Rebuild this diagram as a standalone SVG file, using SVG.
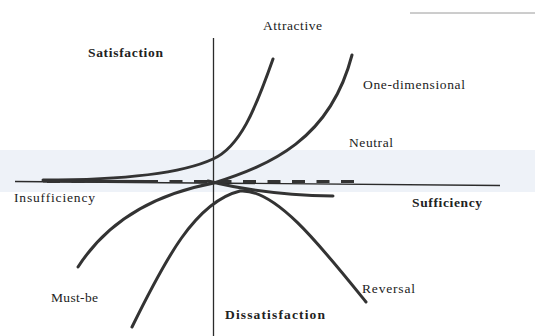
<svg xmlns="http://www.w3.org/2000/svg" width="535" height="336" viewBox="0 0 535 336">
<style>
.lbl{font-family:"Liberation Serif","Times New Roman",serif;font-size:13.5px;fill:#222}
.b{font-weight:bold}
.axis{stroke:#2b2b2b;stroke-width:1.3;fill:none}
.curve{stroke:#333;stroke-width:3;fill:none;stroke-linecap:round}
</style>
<rect width="535" height="336" fill="#ffffff"/>
<rect x="0" y="150" width="535" height="42" fill="#eef2f8"/>
<line x1="410" y1="13" x2="535" y2="13" stroke="#9a9a9a" stroke-width="1"/>
<g id="connectors">
  <line id="axis-x" class="axis" x1="15" y1="181.5" x2="500" y2="185.5"/>
  <line id="axis-y" class="axis" x1="213.5" y1="38" x2="213.5" y2="336"/>
  <path id="neutral" d="M43,181.5 L355,181.5" stroke="#333" stroke-width="3.2" fill="none" stroke-dasharray="13 11.5" stroke-dashoffset="-4"/>
  <path id="neutral-left" d="M43,181 L150,181.5" stroke="#333" stroke-width="3" fill="none"/>
  <path id="attractive" class="curve" d="M43,180 C 130,180 185,172 213,159 C 240,147 255,110 273,59"/>
  <path id="one-dimensional" class="curve" d="M78,267 C 105,225 150,195 214,183 C 270,165 330,140 352,55"/>
  <path id="mustbe-reversal" class="curve" d="M132,327 C 165,260 195,202 240,191 C 275,188 320,245 366,302"/>
  <path id="origin-line" class="curve" d="M208,181 C 240,189 280,195 333,196"/>
</g>
<g id="attractive-label"><text class="lbl" x="263" y="30" textLength="59" lengthAdjust="spacing">Attractive</text></g>
<g id="satisfaction-label"><text class="lbl b" x="88" y="57" textLength="75" lengthAdjust="spacing">Satisfaction</text></g>
<g id="onedim-label"><text class="lbl" x="363" y="89" textLength="102" lengthAdjust="spacing">One-dimensional</text></g>
<g id="neutral-label"><text class="lbl" x="349" y="147" textLength="44" lengthAdjust="spacing">Neutral</text></g>
<g id="insufficiency-label"><text class="lbl" x="14" y="202" textLength="81" lengthAdjust="spacing">Insufficiency</text></g>
<g id="sufficiency-label"><text class="lbl b" x="412" y="207" textLength="70" lengthAdjust="spacing">Sufficiency</text></g>
<g id="mustbe-label"><text class="lbl" x="51" y="302" textLength="47" lengthAdjust="spacing">Must-be</text></g>
<g id="reversal-label"><text class="lbl" x="362" y="293" textLength="53" lengthAdjust="spacing">Reversal</text></g>
<g id="dissatisfaction-label"><text class="lbl b" x="225" y="319" textLength="100" lengthAdjust="spacing">Dissatisfaction</text></g>
</svg>
